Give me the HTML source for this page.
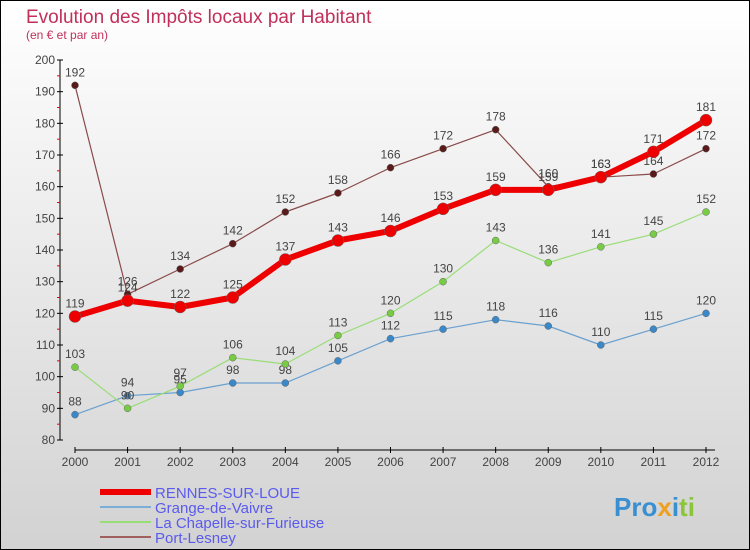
<!DOCTYPE html>
<html><head><meta charset="utf-8"><style>
body{margin:0;width:750px;height:550px;overflow:hidden;font-family:"Liberation Sans",sans-serif}
#wrap{position:absolute;left:0;top:0;width:748px;height:548px;border:1px solid #000;background:linear-gradient(#ffffff,#d2d2d2)}
</style></head><body>
<div id="wrap">
<svg id="chart" width="750" height="550" style="position:absolute;left:-1px;top:-1px">
<text x="26" y="23" font-size="19" fill="#c0305a">Evolution des Impôts locaux par Habitant</text>
<text x="26" y="39" font-size="12" fill="#c0305a">(en € et par an)</text>
<g id="g"></g>
<text x="614" y="516" font-size="26" font-weight="bold" fill="#3a8fd0">Pro<tspan fill="#f0a020">x</tspan><tspan fill="#3a8fd0">i</tspan><tspan fill="#8cc43c">ti</tspan></text>
</svg>
</div>
<script>
const years=[2000,2001,2002,2003,2004,2005,2006,2007,2008,2009,2010,2011,2012];
const rennes=[119,124,122,125,137,143,146,153,159,159,163,171,181];
const grange=[88,94,95,98,98,105,112,115,118,116,110,115,120];
const chapelle=[103,90,97,106,104,113,120,130,143,136,141,145,152];
const port=[192,126,134,142,152,158,166,172,178,160,163,164,172];
const yTicks=[80,90,100,110,120,130,140,150,160,170,180,190,200];
const NS="http://www.w3.org/2000/svg";
const g=document.getElementById('g');
const xs=i=>75+i*(706-75)/12;
const ys=v=>440-(v-80)*380/120;
function mk(t,a,p){const e=document.createElementNS(NS,t);for(const k in a)e.setAttribute(k,a[k]);(p||g).appendChild(e);return e;}
// y axis
let ax=mk('line',{x1:60,y1:60,x2:60,y2:440,stroke:'#000'});


yTicks.forEach((v,i)=>{
  mk('line',{x1:57,x2:63,y1:ys(v),y2:ys(v),stroke:'#000'});
  if(i<yTicks.length-1)mk('line',{x1:57,x2:60,y1:ys(v+5),y2:ys(v+5),stroke:'#e00'});
  const t=mk('text',{x:55,y:ys(v)+4,'font-size':12,fill:'#444','text-anchor':'end'});t.textContent=v;
  
  
});
let xa=mk('line',{x1:75,y1:450,x2:715,y2:450,stroke:'#000'});


years.forEach((y,i)=>{
  mk('line',{x1:xs(i),x2:xs(i),y1:447,y2:453,stroke:'#000'});
  const t=mk('text',{x:xs(i),y:466,'font-size':12,fill:'#444','text-anchor':'middle'});t.textContent=y;
  
  
});
function series(d,col,dot,w,r,name,fs){
  const pts=d.map((v,i)=>xs(i)+','+ys(v)).join(' ');
  const l=mk('polyline',{points:pts,fill:'none',stroke:col,'stroke-width':w,'stroke-linejoin':'round'});
  
  
  d.forEach((v,i)=>{
    const c=mk('circle',{cx:xs(i),cy:ys(v),r:r,fill:dot,stroke:'#666','stroke-width':0.5});
    
    
    const t=mk('text',{x:xs(i),y:ys(v)-9,'font-size':fs,fill:'#444','text-anchor':'middle'});t.textContent=v;
    
    
  });
}
series(grange,'#6aa0d0','#3a88c8',1.2,3.5,'grange',12);
series(chapelle,'#99dd77','#77cc44',1.2,3.5,'chapelle',12);
series(port,'#8a4a4a','#5a1a1a',1.2,3.5,'port',12);
series(rennes,'#ee0000','#ee0000',6,6,'rennes',12);
const leg=[['RENNES-SUR-LOUE','#ee0000',6],['Grange-de-Vaivre','#7aaed8',2],['La Chapelle-sur-Furieuse','#99dd77',2],['Port-Lesney','#a06060',2]];
leg.forEach((L,i)=>{
  const y=492+i*15;
  const l=mk('line',{x1:100,x2:151,y1:y,y2:y,stroke:L[1],'stroke-width':L[2]});
  
  
  const t=mk('text',{x:155,y:y+6,'font-size':15,fill:'#5a5aee'});t.textContent=L[0];
  
  
});
</script>
</body></html>
